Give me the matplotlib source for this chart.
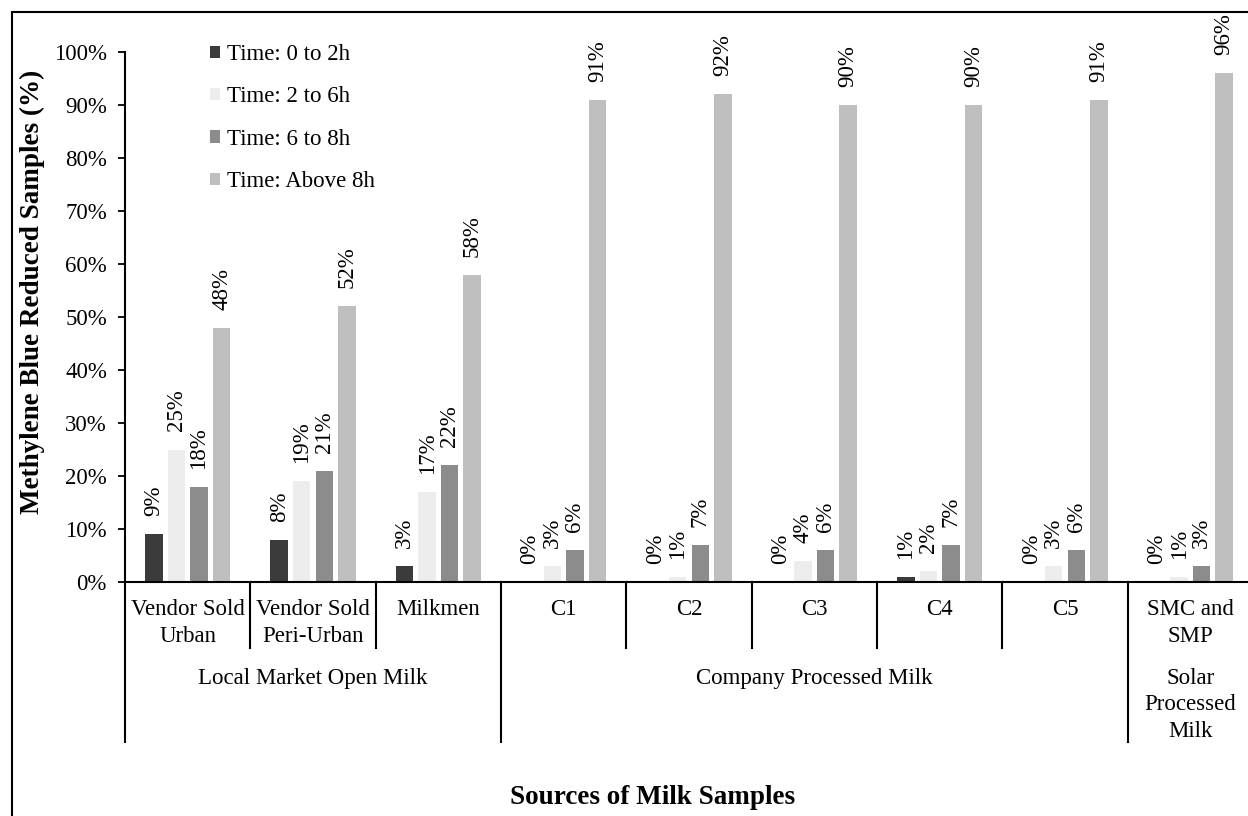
import numpy as np
import matplotlib
matplotlib.use("Agg")
import matplotlib.pyplot as plt
from matplotlib.patches import Rectangle
from matplotlib.lines import Line2D

plt.rcParams['font.family'] = ['Liberation Serif', 'DejaVu Serif']

# sources of milk samples and share of samples reduced in each time window (%)
sources = ["Vendor Sold\nUrban", "Vendor Sold\nPeri-Urban", "Milkmen",
           "C1", "C2", "C3", "C4", "C5", "SMC and\nSMP"]
groups = ["Local Market Open Milk", "Company Processed Milk", "Solar\nProcessed\nMilk"]
group_spans = [(0, 2), (3, 7), (8, 8)]

series = ["Time: 0 to 2h", "Time: 2 to 6h", "Time: 6 to 8h", "Time: Above 8h"]
t_0_2 = [9, 8, 3, 0, 0, 0, 1, 0, 0]
t_2_6 = [25, 19, 17, 3, 1, 4, 2, 3, 1]
t_6_8 = [18, 21, 22, 6, 7, 6, 7, 6, 3]
t_above_8 = [48, 52, 58, 91, 92, 90, 90, 91, 96]

colors = ["#3b3b3b", "#ededed", "#8c8c8c", "#bfbfbf"]

W, H = 1248, 816
fig = plt.figure(figsize=(W / 100, H / 100), dpi=100)
ax = fig.add_axes([125 / W, 1 - 582 / H, (1253 - 125) / W, 530 / H])

x = np.arange(len(sources))
offsets = [-0.27, -0.09, 0.09, 0.27]
width = 0.14
for vals, off, col, name in zip([t_0_2, t_2_6, t_6_8, t_above_8], offsets, colors, series):
    ax.bar(x + off, vals, width, color=col, label=name, zorder=2)
    for xi, v in zip(x + off, vals):
        ax.annotate(f"{v}%", (xi, v), xytext=(0, 13), textcoords="offset points",
                    rotation=90, ha="center", va="bottom", fontsize=16.5)

ax.set_xlim(-0.5, len(sources) - 0.5)
ax.set_ylim(0, 100)
ax.set_yticks(np.arange(0, 101, 10))
ax.set_yticklabels([f"{v}%" for v in range(0, 101, 10)], fontsize=16.5)
ax.set_xticks([])
ax.tick_params(axis="y", direction="out", length=5, width=1.3, pad=8)
for s in ["top", "right"]:
    ax.spines[s].set_visible(False)
for s in ["left", "bottom"]:
    ax.spines[s].set_linewidth(1.5)

# category labels and divider lines below the axis
tr = ax.get_xaxis_transform()
for xi, name in zip(x, sources):
    ax.text(xi, -0.033, name, transform=tr, ha="center", va="top",
            fontsize=16.5, linespacing=1.35)

short = [0.5, 1.5, 3.5, 4.5, 5.5, 6.5]
long_ = [-0.5, 2.5, 7.5]
for xs in short:
    ax.add_line(Line2D([xs, xs], [0, -66 / 530], transform=tr, color="black",
                       lw=1.5, clip_on=False))
for xs in long_:
    ax.add_line(Line2D([xs, xs], [0, -160 / 530], transform=tr, color="black",
                       lw=1.5, clip_on=False))

for (a, b), g in zip(group_spans, groups):
    ax.text((a + b) / 2, -0.162, g, transform=tr, ha="center", va="top",
            fontsize=16.5, linespacing=1.35)

leg = ax.legend(loc="upper left", bbox_to_anchor=(210 / W, 1 - 44 / H),
                bbox_transform=fig.transFigure, frameon=False, fontsize=16.5,
                handlelength=0.45, handleheight=0.45, handletextpad=0.3,
                labelspacing=0.93, borderpad=0, borderaxespad=0)

fig.text(32 / W, 1 - 292 / H, "Methylene Blue Reduced Samples (%)", rotation=90,
         ha="center", va="center", fontsize=19.5, fontweight="bold")
fig.text(653 / W, 1 - 797 / H, "Sources of Milk Samples",
         ha="center", va="center", fontsize=19.5, fontweight="bold")

# outer frame
fig.add_artist(Rectangle((12 / W, -0.2), 1.3, 1.2 - 12 / H, transform=fig.transFigure,
                         fill=False, edgecolor="black", lw=1.5))

fig.savefig("out.png", dpi=100)
